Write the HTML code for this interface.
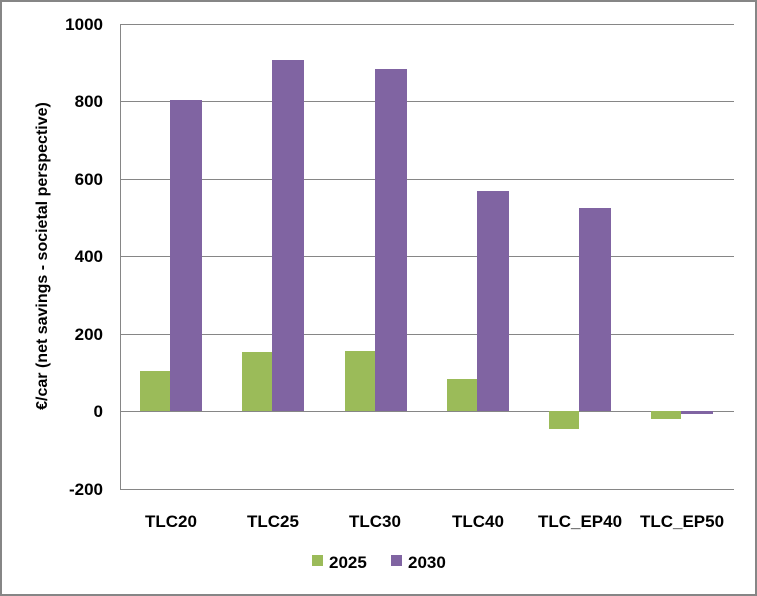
<!DOCTYPE html><html><head><style>body{margin:0;background:#fff}svg{display:block}text{font-family:"Liberation Sans",sans-serif;font-weight:bold;fill:#000}</style></head><body>
<svg width="757" height="596" xmlns="http://www.w3.org/2000/svg">
<rect x="1" y="1" width="755" height="594" fill="#fff" stroke="#868686" stroke-width="2"/>
<g stroke="#868686" stroke-width="1">
<line x1="120" y1="24.5" x2="734" y2="24.5"/><line x1="120" y1="101.5" x2="734" y2="101.5"/><line x1="120" y1="179.5" x2="734" y2="179.5"/><line x1="120" y1="256.5" x2="734" y2="256.5"/><line x1="120" y1="334.5" x2="734" y2="334.5"/><line x1="120" y1="411.5" x2="734" y2="411.5"/><line x1="120" y1="489.5" x2="734" y2="489.5"/>
<line x1="120.5" y1="24" x2="120.5" y2="489"/>
</g>
<g font-size="17" text-anchor="end">
<text x="103" y="30">1000</text><text x="103" y="107">800</text><text x="103" y="185">600</text><text x="103" y="262">400</text><text x="103" y="340">200</text><text x="103" y="417">0</text><text x="103" y="495">-200</text>
</g>
<text transform="translate(47,256) rotate(-90)" font-size="16" text-anchor="middle">€/car (net savings - societal perspective)</text>
<g fill="#9bbb59">
<rect x="140" y="371" width="30" height="40"/><rect x="242" y="352" width="30" height="59"/><rect x="345" y="351" width="30" height="60"/><rect x="447" y="379" width="30" height="32"/><rect x="549" y="411" width="30" height="18"/><rect x="651" y="411" width="30" height="8"/>
</g>
<g fill="#8064a2">
<rect x="170" y="100" width="32" height="311"/><rect x="272" y="60" width="32" height="351"/><rect x="375" y="69" width="32" height="342"/><rect x="477" y="191" width="32" height="220"/><rect x="579" y="208" width="32" height="203"/><rect x="681" y="411" width="32" height="3"/>
</g>
<g font-size="17" text-anchor="middle">
<text x="171" y="527">TLC20</text><text x="273" y="527">TLC25</text><text x="375" y="527">TLC30</text><text x="478" y="527">TLC40</text><text x="580" y="527">TLC_EP40</text><text x="682" y="527">TLC_EP50</text>
</g>
<rect x="312" y="555" width="11" height="11" fill="#9bbb59"/><text x="329" y="568" font-size="17">2025</text>
<rect x="391" y="555" width="11" height="11" fill="#8064a2"/><text x="408" y="568" font-size="17">2030</text>
</svg></body></html>
